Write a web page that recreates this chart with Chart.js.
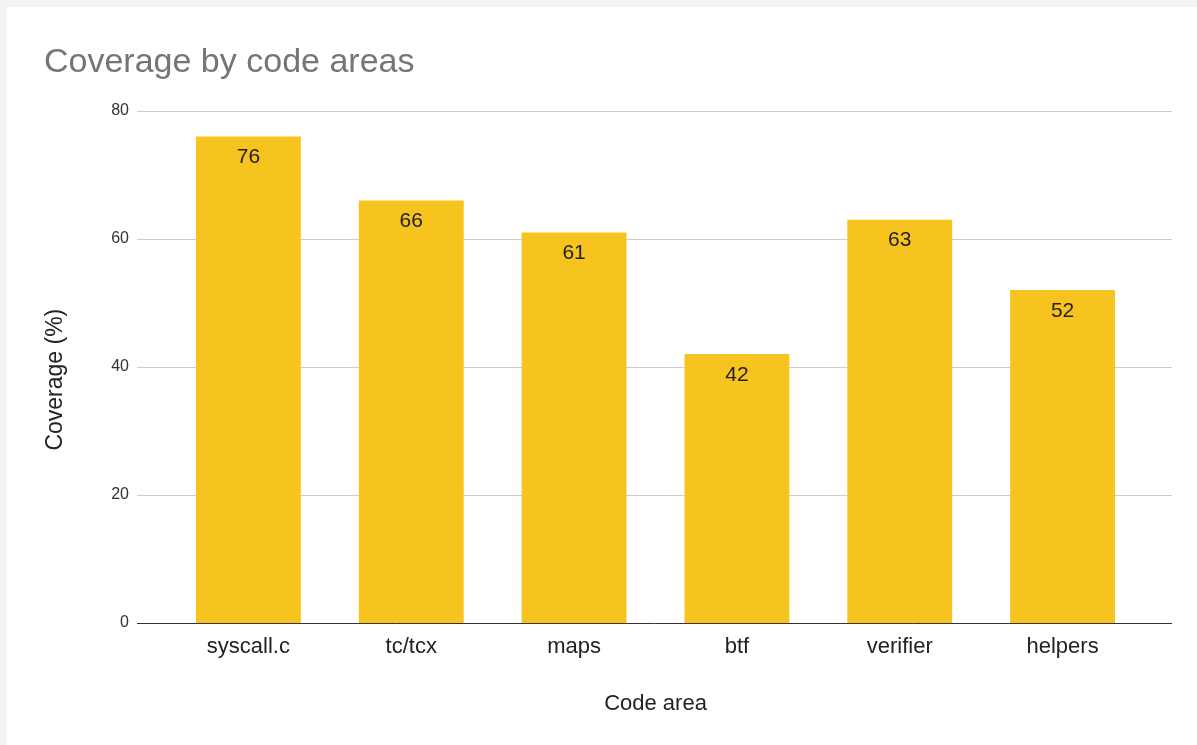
<!DOCTYPE html>
<html>
<head>
<meta charset="utf-8">
<script src="https://cdn.jsdelivr.net/npm/chart.js@4.4.1/dist/chart.umd.min.js"></script>
<style>
  body { margin: 0; background: #f3f3f5; overflow: hidden; }
  #wrap { position: absolute; left: 7px; top: 7px; width: 1190px; height: 738px; background: #fff; }
</style>
</head>
<body>
<div id="wrap"><canvas id="coverageChart"></canvas></div>
<script>
// datos del gráfico
const categories = ['syscall.c', 'tc/tcx', 'maps', 'btf', 'verifier', 'helpers'];
const coverage = [76, 66, 61, 42, 63, 52];
const yTicks = [0, 20, 40, 60, 80];

const FONT = "'Liberation Sans', Arial, sans-serif";

// líneas horizontales que sobresalen del área del gráfico
const gridLines = {
  id: 'gridLines',
  beforeDatasetsDraw(chart) {
    const { ctx, chartArea, scales } = chart;
    ctx.save();
    scales.y.ticks.forEach(t => {
      const y = Math.round(scales.y.getPixelForValue(t.value)) + 0.5;
      ctx.strokeStyle = t.value === 0 ? '#333333' : '#cccccc';
      ctx.lineWidth = 1;
      ctx.beginPath();
      ctx.moveTo(chartArea.left - 30, y);
      ctx.lineTo(chartArea.right + 28, y);
      ctx.stroke();
    });
    ctx.restore();
  }
};

// etiquetas de valor dentro de cada barra
const barLabels = {
  id: 'barLabels',
  afterDatasetsDraw(chart) {
    const { ctx } = chart;
    const meta = chart.getDatasetMeta(0);
    ctx.save();
    ctx.font = "21px " + FONT;
    ctx.fillStyle = '#222222';
    ctx.textAlign = 'center';
    ctx.textBaseline = 'middle';
    meta.data.forEach((bar, i) => {
      ctx.fillText(String(coverage[i]), bar.x, bar.y + 21);
    });
    ctx.restore();
  }
};

const ctx = document.getElementById('coverageChart').getContext('2d');
new Chart(ctx, {
  type: 'bar',
  data: {
    labels: categories,
    datasets: [{
      label: 'Coverage',
      data: coverage,
      backgroundColor: '#f7c31f',
      borderWidth: 0,
      categoryPercentage: 1,
      barPercentage: 0.644
    }]
  },
  options: {
    responsive: true,
    maintainAspectRatio: false,
    animation: false,
    layout: { padding: { left: 37, right: 53, top: 0, bottom: 0 } },
    scales: {
      x: {
        grid: { display: false, drawTicks: false },
        border: { display: false },
        ticks: { color: '#222222', font: { family: FONT, size: 22 }, padding: 11 },
        title: {
          display: true, text: 'Code area', color: '#222222',
          font: { family: FONT, size: 22 }, padding: { top: 0, bottom: 28 }
        },
        afterFit(scale) { scale.height = 122; }
      },
      y: {
        min: 0,
        max: 80,
        afterBuildTicks(scale) { scale.ticks = yTicks.map(v => ({ value: v })); },
        grid: { display: false, drawTicks: false },
        border: { display: false },
        ticks: { color: '#333333', font: { family: FONT, size: 16 }, padding: 38 },
        title: {
          display: true, text: 'Coverage (%)    ', color: '#222222',
          font: { family: FONT, size: 23, lineHeight: 1 }, padding: { top: 0, bottom: 0 }
        },
        afterFit(scale) { scale.width = 123; }
      }
    },
    plugins: {
      legend: { display: false },
      tooltip: { enabled: false },
      title: {
        display: true,
        text: 'Coverage by code areas',
        align: 'start',
        color: '#757575',
        font: { family: FONT, size: 34, weight: 'normal' },
        padding: { top: 35, bottom: 28 }
      }
    }
  },
  plugins: [gridLines, barLabels]
});
</script>
</body>
</html>
